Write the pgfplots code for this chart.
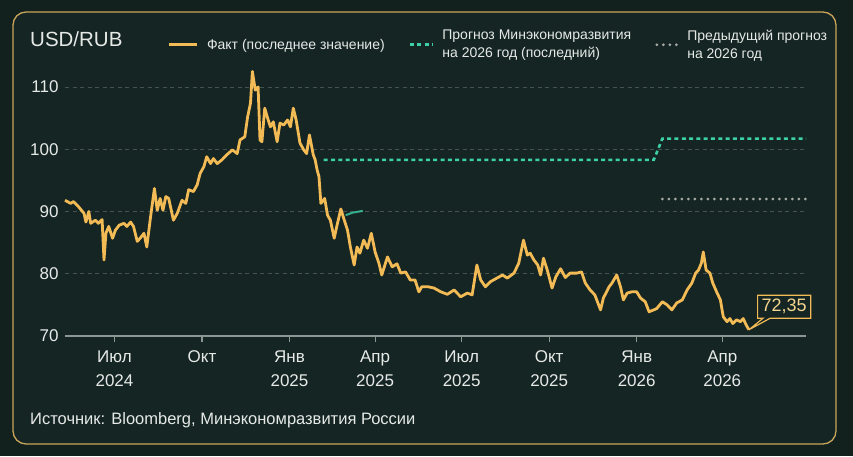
\documentclass[border=0pt]{standalone}
\usepackage{pgfplots}
\pgfplotsset{compat=1.18}
\usepackage{fontspec}
\setmainfont{Liberation Sans}
\usetikzlibrary{shapes.callouts}

\definecolor{bg}{HTML}{12201E}
\definecolor{panel}{HTML}{152523}
\definecolor{frame}{HTML}{C9A55A}
\definecolor{fact}{HTML}{F2BB55}
\definecolor{fcst}{HTML}{3CCFA8}
\definecolor{prev}{HTML}{A8ABA5}
\definecolor{gridc}{HTML}{46524F}
\definecolor{axisc}{HTML}{8C9692}
\definecolor{txt}{HTML}{E6EAE7}
\definecolor{lbl}{HTML}{F5D68F}

\pgfplotsset{
  legline/.style={legend image code/.code={\draw[##1] (0pt,0pt) -- (#1,0pt);}},
}

\begin{document}
\begin{tikzpicture}
% page: 853 x 456, axis box corner at (65,336) from the top left
\begin{scope}[x=1pt,y=1pt,shift={(-65pt,-120pt)}]
\fill[bg] (0,0) rectangle (853,456);
\useasboundingbox (0,0) rectangle (853,456);
\draw[frame, line width=1.3pt, rounded corners=13pt, fill=panel] (13,12) rectangle (836,444);
\node[anchor=base west, text=txt, font=\fontsize{20.5}{24}\selectfont, inner sep=0pt] at (30,410) {USD/RUB};
\node[anchor=base west, text=txt, font=\fontsize{16.5}{20}\selectfont, inner sep=0pt] at (30,32) {Источник: Bloomberg, Минэкономразвития России};
\end{scope}

\begin{axis}[
  anchor=south west,
  scale only axis, width=741pt, height=267.7pt,
  xmin=-52, xmax=727, ymin=70, ymax=113,
  axis x line=bottom, axis y line=left,
  x axis line style={axisc, line width=1.5pt, -},
  y axis line style={draw=none},
  xtick={0,92,184,274,365,457,549,639},
  xticklabels={Июл\\2024, Окт, Янв\\2025, Апр\\2025, Июл\\2025, Окт\\2025, Янв\\2026, Апр\\2026},
  xtick align=outside, major tick length=6pt,
  xtick style={axisc, line width=1.2pt},
  xticklabel style={align=center, text=txt, font=\fontsize{17}{24}\selectfont, yshift=-5pt},
  ytick={70,80,90,100,110},
  ytick style={draw=none},
  yticklabel style={text=txt, font=\fontsize{17}{20}\selectfont},
  /pgf/number format/assume math mode=true,
  ymajorgrids,
  major grid style={gridc, dash pattern=on 4pt off 3.5pt, line width=0.8pt},
  clip=false,
  legend columns=3,
  legend cell align=left,
  legend style={at={(axis description cs:0.1377,1.152)}, anchor=north west,
    draw=none, fill=none, text=txt, inner sep=0pt,
    font=\fontsize{14}{18}\selectfont,
    cells={align=left},
    /tikz/every odd column/.append style={column sep=7pt},
    /tikz/every even column/.append style={column sep=22pt}},
]

% short teal stroke
\addplot[fcst, line width=2pt, opacity=0.8, forget plot] coordinates {(243,89.4) (250,89.8) (261,90.1)};

% fact, days since 1 Jul 2024
\addplot[fact, line width=2.8pt, line join=round, legline=28pt] table {
-52 91.8
-46 91.3
-43 91.6
-38 90.8
-32 89.7
-30 88.3
-27 90.0
-25 88.1
-20 88.6
-17 88.1
-13 88.7
-11 82.2
-9 86.5
-6 87.6
-2 85.7
1 87.0
5 87.8
10 88.1
13 87.6
17 88.3
20 87.6
24 85.2
27 85.7
31 86.5
34 84.3
38 89.2
42 93.7
45 90.2
48 92.1
51 90.2
54 92.4
57 92.1
62 88.6
66 89.7
71 91.8
75 91.3
78 93.5
83 93.2
87 94.3
90 96.1
94 97.2
97 98.8
101 97.7
104 98.5
108 97.7
113 98.3
118 99.1
124 99.9
129 99.3
132 101.5
137 102.0
140 105.2
143 107.4
145 112.5
148 109.5
151 110.0
153 101.5
155 101.2
158 106.6
161 105.0
164 103.6
167 104.4
171 101.2
174 104.2
178 103.9
182 104.7
185 103.6
188 106.6
191 104.7
195 101.0
199 99.9
202 99.3
205 102.3
209 99.1
211 98.3
213 96.7
215 95.6
217 91.3
221 92.1
224 89.4
227 88.6
231 85.7
234 87.8
238 90.4
241 88.9
245 87.0
248 84.3
252 81.4
255 84.3
258 83.3
262 85.4
266 84.1
270 86.5
274 83.5
278 81.7
281 79.8
287 82.7
292 81.1
297 81.6
301 80.1
306 80.3
311 79.0
316 79.0
320 77.1
323 77.9
330 77.9
336 77.7
343 77.1
350 76.7
357 77.4
364 76.3
371 76.9
376 76.6
381 81.4
385 79.0
390 77.9
395 78.7
402 79.3
408 79.8
413 79.3
420 80.1
425 81.7
430 85.4
434 83.0
437 83.3
441 82.2
445 81.4
448 79.8
451 82.5
455 80.6
460 77.7
464 79.5
469 80.8
474 79.4
479 80.1
486 80.1
491 80.3
495 78.5
500 77.4
505 76.6
511 74.2
514 76.1
520 77.9
523 78.5
528 79.8
532 77.9
535 75.8
539 76.9
544 77.1
549 77.1
553 76.1
558 75.5
562 73.9
567 74.2
570 74.4
576 75.5
581 75.0
586 74.2
591 75.3
597 75.8
602 77.4
607 78.5
611 80.1
614 80.6
617 81.7
619 83.5
622 80.6
626 80.1
629 78.5
633 77.1
637 75.8
640 73.1
644 72.3
647 72.8
650 72.0
654 72.6
658 72.3
661 72.8
664 71.8
667 71.0
};
\addlegendentry{Факт (последнее значение)}

\addplot[fcst, line width=2.6pt, dash pattern=on 4pt off 3.3pt, legline=22pt] table {
220 98.3
567 98.3
576 101.7
727 101.7
};
\addlegendentry{Прогноз Минэкономразвития\\на 2026 год (последний)}

\addplot[prev, line width=3pt, line cap=round, dash pattern=on 0pt off 6.5pt, legline=20pt] table {
576 92.0
727 92.0
};
\addlegendentry{Предыдущий прогноз\\на 2026 год}

\coordinate (endpt) at (axis cs:667,71.0);
\node[rectangle callout, draw=fact, line width=1.2pt, fill=panel, text=lbl,
  font=\fontsize{18}{20}\selectfont, inner xsep=4pt, inner ysep=4pt,
  callout absolute pointer={(endpt)}] at (axis cs:704,74.7) {72,35};
\end{axis}
\end{tikzpicture}
\end{document}
